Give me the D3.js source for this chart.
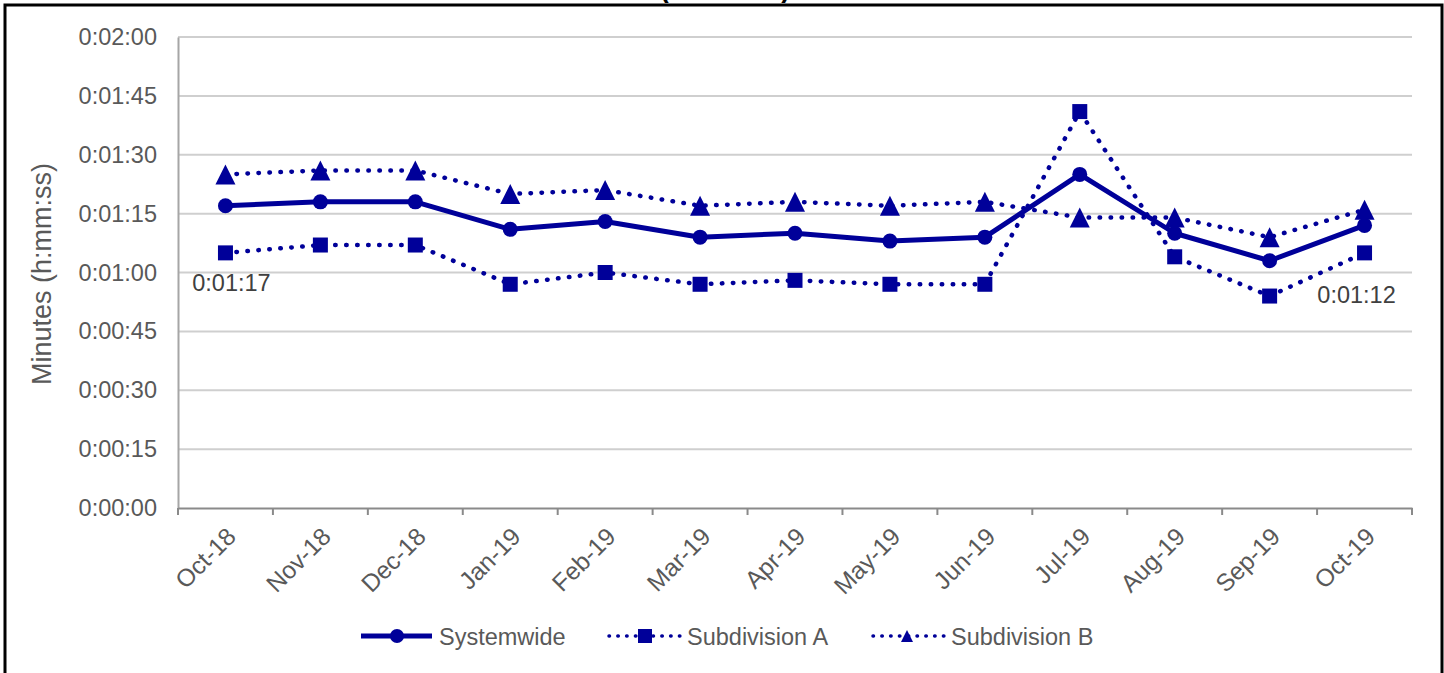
<!DOCTYPE html>
<html lang="en">
	<head>
		<meta charset="utf-8">
		<title>D3: Minutes line chart</title>
		<script type="text/javascript" src="https://cdn.jsdelivr.net/npm/d3@7"></script>
		<style type="text/css">
			body { margin: 0; background: #fff; }
			text { font-family: "Liberation Sans", Arial, sans-serif; }
		</style>
	</head>
	<body>
		<script type="text/javascript">

			//Width and height
			var w = 1444;
			var h = 673;

			//Data (seconds)
			var months = ["Oct-18", "Nov-18", "Dec-18", "Jan-19", "Feb-19", "Mar-19", "Apr-19",
			              "May-19", "Jun-19", "Jul-19", "Aug-19", "Sep-19", "Oct-19"];
			var systemwide   = [77, 78, 78, 71, 73, 69, 70, 68, 69, 85, 70, 63, 72];
			var subdivisionA = [65, 67, 67, 57, 60, 57, 58, 57, 57, 101, 64, 54, 65];
			var subdivisionB = [85, 86, 86, 80, 81, 77, 78, 77, 78, 74, 74, 69, 76];
			var yTicks = [0, 15, 30, 45, 60, 75, 90, 105, 120];
			var seriesNames = ["Systemwide", "Subdivision A", "Subdivision B"];

			var blue = "#000099";

			//Format seconds as h:mm:ss
			var fmt = function(s) {
				var m = Math.floor(s / 60), sec = s % 60;
				return "0:" + (m < 10 ? "0" : "") + m + ":" + (sec < 10 ? "0" : "") + sec;
			};

			//Triangle marker path, half-width r
			var triPath = function(r) {
				return "M0," + (-r) + "L" + r + "," + r + "L" + (-r) + "," + r + "Z";
			};

			var svg = d3.select("body")
						.append("svg")
						.attr("width", w)
						.attr("height", h);

			//Title (mostly cut off above)
			svg.append("text")
			   .attr("x", 725)
			   .attr("y", -3)
			   .attr("text-anchor", "middle")
			   .attr("font-size", "27px")
			   .attr("font-weight", "bold")
			   .attr("fill", "#000")
			   .text("(h:mm:ss)");

			//Scales
			var xScale = d3.scaleBand()
						   .domain(months)
						   .range([178, 1412]);
			var cx = function(i) { return xScale(months[i]) + xScale.bandwidth() / 2; };

			var yScale = d3.scaleLinear()
						   .domain([0, 120])
						   .range([508, 37]);

			//Gridlines
			svg.append("g")
			   .selectAll("line")
			   .data(yTicks.filter(function(d) { return d > 0; }))
			   .enter()
			   .append("line")
			   .attr("x1", 178)
			   .attr("x2", 1412)
			   .attr("y1", function(d) { return yScale(d); })
			   .attr("y2", function(d) { return yScale(d); })
			   .attr("stroke", "#cfcfcf")
			   .attr("stroke-width", 2);

			//Y axis
			var yAxis = d3.axisLeft(yScale)
						  .tickValues(yTicks)
						  .tickFormat(fmt)
						  .tickSize(0)
						  .tickPadding(21);
			var yg = svg.append("g")
			   .attr("transform", "translate(178,0)")
			   .call(yAxis);
			yg.select(".domain").attr("stroke", "#a6a6a6").attr("stroke-width", 2);
			yg.selectAll("text")
			  .attr("font-size", "23.5px")
			  .attr("fill", "#595959")
			  .attr("font-family", "Liberation Sans, Arial, sans-serif");

			//X axis
			var xAxis = d3.axisBottom(xScale).tickSize(0).tickFormat("");
			var xg = svg.append("g")
			   .attr("transform", "translate(0,508)")
			   .call(xAxis);
			xg.select(".domain").attr("stroke", "#8a8a8a").attr("stroke-width", 2);

			//X tick marks at band edges
			var edges = months.map(function(d) { return xScale(d); }).concat([xScale.range()[1]]);
			svg.append("g")
			   .selectAll("line")
			   .data(edges)
			   .enter()
			   .append("line")
			   .attr("x1", function(d) { return d; })
			   .attr("x2", function(d) { return d; })
			   .attr("y1", 508)
			   .attr("y2", 515)
			   .attr("stroke", "#8a8a8a")
			   .attr("stroke-width", 2);

			//X labels
			svg.append("g")
			   .selectAll("text")
			   .data(months)
			   .enter()
			   .append("text")
			   .attr("transform", function(d, i) {
			   		return "translate(" + (cx(i) + 12) + ",538) rotate(-45)";
			   })
			   .attr("text-anchor", "end")
			   .attr("font-size", "24.5px")
			   .attr("fill", "#595959")
			   .text(function(d) { return d; });

			//Y axis title
			svg.append("text")
			   .attr("transform", "translate(51,274) rotate(-90)")
			   .attr("text-anchor", "middle")
			   .attr("font-size", "27px")
			   .attr("fill", "#595959")
			   .text("Minutes (h:mm:ss)");

			var line = d3.line()
						 .x(function(d, i) { return cx(i); })
						 .y(function(d) { return yScale(d); });

			var dotted = "0.5 10.5";

			//Lines
			[subdivisionA, subdivisionB].forEach(function(series) {
				svg.append("path")
				   .attr("d", line(series))
				   .attr("fill", "none")
				   .attr("stroke", blue)
				   .attr("stroke-width", 4.5)
				   .attr("stroke-linecap", "round")
				   .attr("stroke-dasharray", dotted);
			});

			svg.append("path")
			   .attr("d", line(systemwide))
			   .attr("fill", "none")
			   .attr("stroke", blue)
			   .attr("stroke-width", 5)
			   .attr("stroke-linejoin", "round");

			//Markers
			svg.append("g")
			   .selectAll("rect")
			   .data(subdivisionA)
			   .enter()
			   .append("rect")
			   .attr("x", function(d, i) { return cx(i) - 7.5; })
			   .attr("y", function(d) { return yScale(d) - 7.5; })
			   .attr("width", 15)
			   .attr("height", 15)
			   .attr("fill", blue);

			svg.append("g")
			   .selectAll("path")
			   .data(subdivisionB)
			   .enter()
			   .append("path")
			   .attr("d", triPath(10))
			   .attr("transform", function(d, i) {
			   		return "translate(" + cx(i) + "," + yScale(d) + ")";
			   })
			   .attr("fill", blue);

			svg.append("g")
			   .selectAll("circle")
			   .data(systemwide)
			   .enter()
			   .append("circle")
			   .attr("cx", function(d, i) { return cx(i); })
			   .attr("cy", function(d) { return yScale(d); })
			   .attr("r", 7.5)
			   .attr("fill", blue);

			//Data labels on first and last Systemwide points
			var last = systemwide.length - 1;
			svg.append("text")
			   .attr("x", cx(0) + 6)
			   .attr("y", yScale(systemwide[0]) + 85)
			   .attr("text-anchor", "middle")
			   .attr("font-size", "23.5px")
			   .attr("fill", "#404040")
			   .text(fmt(systemwide[0]));
			svg.append("text")
			   .attr("x", cx(last) - 8)
			   .attr("y", yScale(systemwide[last]) + 78)
			   .attr("text-anchor", "middle")
			   .attr("font-size", "23.5px")
			   .attr("fill", "#404040")
			   .text(fmt(systemwide[last]));

			//Legend
			var legendX = [361, 609, 873];
			var legend = svg.append("g");
			seriesNames.forEach(function(name, i) {
				var x0 = legendX[i], ly = 636;
				var l = legend.append("line")
					.attr("x1", x0).attr("x2", x0 + 71)
					.attr("y1", ly).attr("y2", ly)
					.attr("stroke", blue);
				if (i === 0) {
					l.attr("stroke-width", 5);
					legend.append("circle").attr("cx", x0 + 36).attr("cy", ly).attr("r", 7).attr("fill", blue);
				} else {
					l.attr("stroke-width", 3.5)
					 .attr("stroke-linecap", "round")
					 .attr("stroke-dasharray", "0.5 8.3");
					if (i === 1) {
						legend.append("rect").attr("x", x0 + 29).attr("y", ly - 7).attr("width", 14).attr("height", 14).attr("fill", blue);
					} else {
						legend.append("path").attr("d", triPath(6))
							.attr("transform", "translate(" + (x0 + 34) + "," + ly + ")")
							.attr("fill", blue);
					}
				}
				legend.append("text")
					.attr("x", x0 + 78)
					.attr("y", ly + 8.5)
					.attr("font-size", "23.5px")
					.attr("fill", "#595959")
					.text(name);
			});

			//Chart border
			svg.append("rect")
			   .attr("x", 5)
			   .attr("y", 5)
			   .attr("width", w - 7)
			   .attr("height", h - 3)
			   .attr("fill", "none")
			   .attr("stroke", "#000")
			   .attr("stroke-width", 3);

		</script>
	</body>
</html>
